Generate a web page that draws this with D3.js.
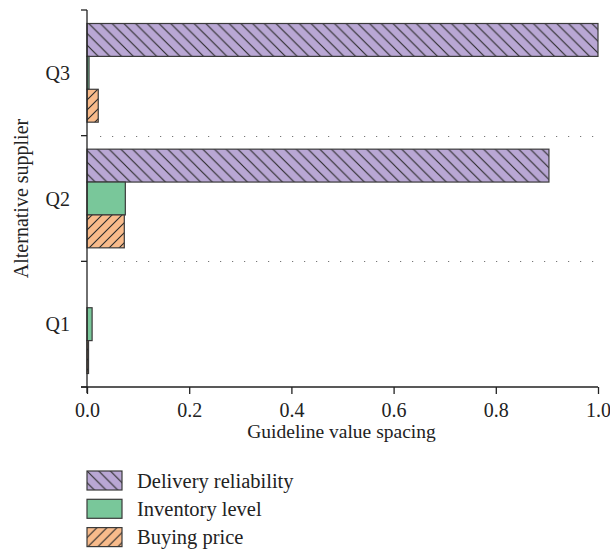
<!DOCTYPE html>
<html>
<head>
<meta charset="utf-8">
<script src="https://cdn.jsdelivr.net/npm/d3@7"></script>
<style>
	body { margin: 0; background: #fff; }
	svg text { font-family: "Liberation Serif", "DejaVu Serif", serif; fill: #222; }
</style>
</head>
<body>
<svg id="chart" width="610" height="550"></svg>
<script>
// data
const suppliers = ['Q3', 'Q2', 'Q1'];
const seriesNames = ['Delivery reliability', 'Inventory level', 'Buying price'];
const deliveryReliability = [1.0, 0.904, 0.0];
const inventoryLevel = [0.004, 0.075, 0.010];
const buyingPrice = [0.022, 0.073, 0.003];
const xTicks = [0, 0.2, 0.4, 0.6, 0.8, 1.0];

const series = [deliveryReliability, inventoryLevel, buyingPrice];
const fills = ['url(#hatchBack)', '#79c79a', 'url(#hatchFwd)'];

const svg = d3.select('#chart');
const margin = {top: 10, left: 87, right: 12};
const W = +svg.attr('width');
const innerWidth = W - margin.left - margin.right;
const innerHeight = 377;

// hatch patterns
const defs = svg.append('defs');
function hatch(id, bg, s, back) {
	const p = defs.append('pattern')
		.attr('id', id)
		.attr('patternUnits', 'userSpaceOnUse')
		.attr('width', s).attr('height', s);
	p.append('rect').attr('width', s).attr('height', s).attr('fill', bg);
	const d = back
		? `M0,0L${s},${s}M${-s/2},${s/2}L${s/2},${s*1.5}M${s/2},${-s/2}L${s*1.5},${s/2}`
		: `M0,${s}L${s},0M${-s/2},${s/2}L${s/2},${-s/2}M${s/2},${s*1.5}L${s*1.5},${s/2}`;
	p.append('path').attr('d', d).attr('stroke', '#2a2a2a').attr('stroke-width', 1.1);
}
hatch('hatchBack', '#b9a7d4', 11.7, true);
hatch('hatchFwd', '#f8bb8b', 10, false);

const g = svg.append('g').attr('transform', `translate(${margin.left},${margin.top})`);

const x = d3.scaleLinear().domain([0, 1]).range([0, innerWidth]);
const y = d3.scaleBand().domain(suppliers).range([0, innerHeight]).paddingInner(0).paddingOuter(0);
const ySub = d3.scaleBand().domain(d3.range(series.length)).range([13.5, y.bandwidth() - 13.5]);

// dotted separators between groups
g.selectAll('line.sep').data(suppliers.slice(1))
	.enter().append('line')
	.attr('x1', 13).attr('x2', innerWidth)
	.attr('y1', d => Math.round(y(d)) + 0.5).attr('y2', d => Math.round(y(d)) + 0.5)
	.attr('stroke', '#777').attr('stroke-width', 1.2)
	.attr('stroke-dasharray', '1.2,10.8');

// bars
suppliers.forEach((q, qi) => {
	series.forEach((vals, si) => {
		if (vals[qi] <= 0) return;
		g.append('rect')
			.attr('x', x(0))
			.attr('y', y(q) + ySub(si))
			.attr('width', x(vals[qi]) - x(0))
			.attr('height', ySub.bandwidth())
			.attr('fill', fills[si])
			.attr('stroke', '#3a3a3a')
			.attr('stroke-width', 1.2);
	});
});

// y axis: ticks at band boundaries, labels in band centres
const yAxisG = g.append('g');
yAxisG.append('line')
	.attr('x1', 0).attr('x2', 0).attr('y1', 0).attr('y2', innerHeight + 6)
	.attr('stroke', '#222').attr('stroke-width', 1.3);
const bounds = suppliers.map(d => y(d)).concat([innerHeight]);
yAxisG.selectAll('line.tk').data(bounds).enter().append('line')
	.attr('x1', -6).attr('x2', 0).attr('y1', d => d).attr('y2', d => d)
	.attr('stroke', '#222').attr('stroke-width', 1.3);
yAxisG.selectAll('text').data(suppliers).enter().append('text')
	.attr('x', -17).attr('y', d => y(d) + y.bandwidth() / 2)
	.attr('dy', '0.35em').attr('text-anchor', 'end')
	.attr('font-size', 20).text(d => d);

// x axis
const xAxisG = g.append('g').attr('transform', `translate(0,${innerHeight})`);
xAxisG.call(d3.axisBottom(x).tickValues(d3.range(0, 1.0001, 0.04)).tickSize(3).tickFormat(''));
xAxisG.call(d3.axisBottom(x).tickValues(xTicks).tickSize(7).tickPadding(9).tickFormat(d3.format('.1f')));
xAxisG.selectAll('.domain').remove();
xAxisG.selectAll('line').attr('stroke', '#222').attr('stroke-width', 1.3);
xAxisG.selectAll('text').attr('font-size', 20).attr('font-family', '"Liberation Serif", serif').attr('fill', '#222');
xAxisG.append('line').attr('x1', -6).attr('x2', innerWidth).attr('y1', 0).attr('y2', 0)
	.attr('stroke', '#222').attr('stroke-width', 1.3);

svg.append('text')
	.attr('x', margin.left + innerWidth / 2 - 1).attr('y', 438)
	.attr('text-anchor', 'middle').attr('font-size', 19.5)
	.text('Guideline value spacing');

svg.append('text')
	.attr('transform', `translate(28,${margin.top + innerHeight / 2}) rotate(-90)`)
	.attr('text-anchor', 'middle').attr('font-size', 20)
	.text('Alternative supplier');

// legend
const legend = svg.append('g').attr('transform', 'translate(87,471)');
const item = legend.selectAll('g').data(seriesNames).enter().append('g')
	.attr('transform', (d, i) => `translate(0,${i * 28.3})`);
item.append('rect')
	.attr('width', 35).attr('height', 19)
	.attr('fill', (d, i) => fills[i])
	.attr('stroke', '#3a3a3a').attr('stroke-width', 1.2);
item.append('text')
	.attr('x', 50).attr('y', 10).attr('dy', '0.33em')
	.attr('font-size', 20.5).text(d => d);
</script>
</body>
</html>
